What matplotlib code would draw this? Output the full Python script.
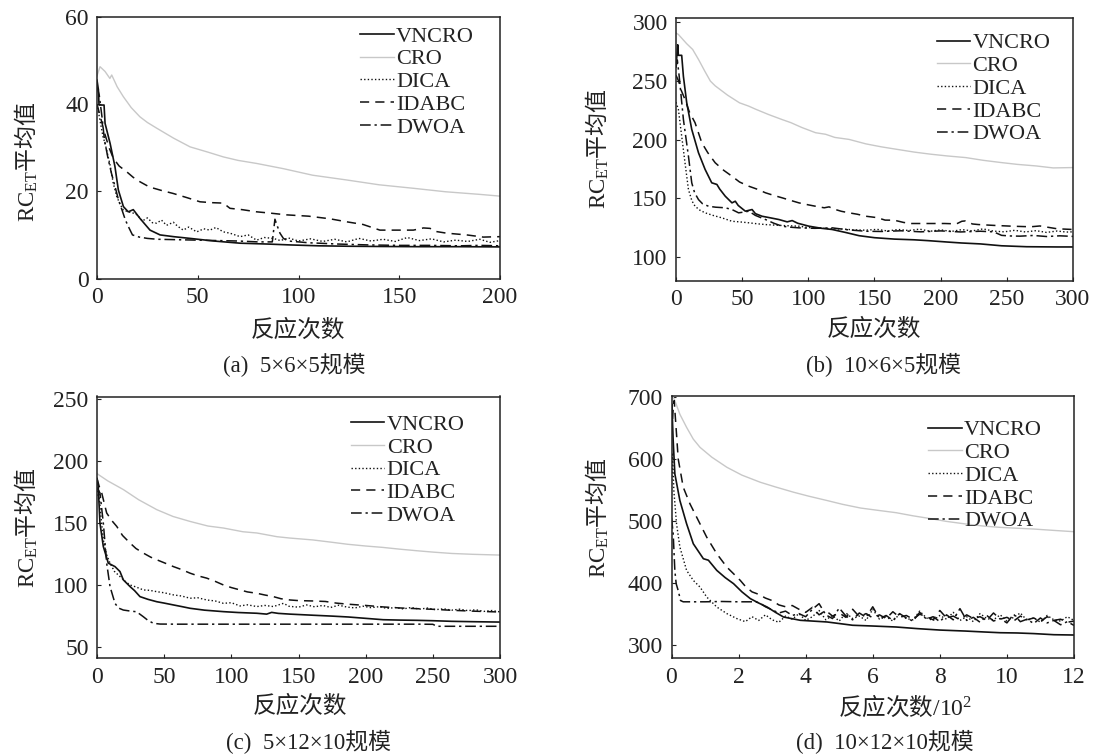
import matplotlib
matplotlib.use('Agg')
import matplotlib.pyplot as plt

plt.rcParams['font.family'] = ['Liberation Serif', 'Noto Sans CJK SC']
plt.rcParams['mathtext.fontset'] = 'custom'
plt.rcParams['mathtext.rm'] = 'Liberation Serif'
plt.rcParams['mathtext.it'] = 'Liberation Serif:italic'

labels = ['VNCRO', 'CRO', 'DICA', 'IDABC', 'DWOA']

# ---------------- panel (a) ----------------
a_vn_x = [0, 0.7, 1.0, 3.5, 4.0, 6.5, 8.9, 10.6, 13.1, 15.5, 18.0, 21.3, 26.3, 31.3, 38, 46.2, 58, 71, 85, 96, 110, 125, 140, 160, 180, 200]
a_vn_y = [45.5, 43.3, 39.8, 39.8, 35.6, 31.0, 25.7, 20.3, 16.5, 15.3, 15.8, 13.8, 11.1, 10.0, 9.6, 9.2, 8.6, 8.1, 7.9, 7.7, 7.5, 7.4, 7.35, 7.3, 7.3, 7.25]
a_cro_x = [0, 1.5, 4, 6.4, 7.3, 10, 13.1, 17, 21.3, 25, 29.6, 38, 46.2, 55, 62.7, 70, 79.2, 92.5, 107, 124, 140, 157, 173, 190, 200]
a_cro_y = [46.5, 48.6, 47.5, 45.9, 46.7, 44, 41.7, 39.2, 37.1, 35.8, 34.5, 32.2, 30.2, 29.0, 27.9, 27.1, 26.4, 25.2, 23.7, 22.6, 21.5, 20.7, 19.9, 19.3, 18.9]
a_dica_x = [0, 1, 2, 3, 4, 5, 6.5, 8, 9.8, 11.5, 13.1, 15.5, 18, 20, 22.5, 25, 27.5, 29.6, 32, 34.5, 37.9, 40, 42.8, 45.5, 49.5, 53, 56, 59, 62.7, 66, 71, 75, 79.2, 83, 87.5, 91, 95, 100, 106, 112, 118, 124, 130, 136, 142, 148, 154, 160, 166, 172, 178, 184, 190, 195, 200]
a_dica_y = [40, 37.5, 35, 32.5, 31, 29, 26, 22, 18.8, 17.0, 15.7, 15.3, 15.0, 14.6, 13.2, 13.9, 12.8, 12.7, 13.4, 12.2, 12.9, 12.0, 11.1, 11.8, 10.7, 11.4, 11.1, 11.7, 10.7, 10.4, 9.6, 10.0, 8.8, 9.4, 9.2, 8.7, 9.3, 8.6, 9.1, 8.5, 9.0, 8.4, 9.2, 8.6, 9.0, 8.5, 9.4, 8.7, 9.1, 8.4, 8.8, 8.5, 9.0, 8.3, 8.7]
a_ida_x = [0, 2, 4, 6, 8.1, 11, 14.7, 18, 21.3, 26, 32, 37.9, 45, 51.1, 57, 62.7, 66, 72, 79.2, 86, 94.1, 105, 115.6, 124, 132, 140.4, 150, 157, 162, 165.3, 168, 173.5, 183.5, 191.7, 200]
a_ida_y = [40, 36.5, 33, 30, 27.6, 25.8, 24.5, 23.2, 22.2, 21.0, 20.2, 19.5, 18.5, 17.6, 17.4, 17.3, 16.1, 15.8, 15.3, 15.0, 14.6, 14.3, 13.7, 13.0, 12.4, 11.1, 11.1, 11.1, 11.6, 11.5, 10.8, 10.4, 10.0, 9.5, 9.6]
a_dw_x = [0, 1.1, 2.5, 3.7, 5.5, 7.2, 9, 10.7, 12.5, 14.1, 16, 17.6, 19, 21, 25, 30, 40, 50, 60, 70, 80, 87, 88.3, 89.5, 90.8, 92.5, 95, 105, 120, 135, 150, 165, 180, 190, 200]
a_dw_y = [44, 42.1, 37, 31.8, 27.5, 24.1, 21, 18.0, 15.6, 13.4, 11.5, 10.0, 9.8, 9.5, 9.2, 9.0, 8.9, 8.8, 8.7, 8.6, 8.4, 8.4, 13.6, 12.0, 10.4, 9.2, 8.6, 8.2, 7.9, 7.7, 7.6, 7.6, 7.5, 7.6, 7.5]

# ---------------- panel (b) ----------------
b_vn_x = [0, 1.3, 1.8, 4.3, 5.6, 8.1, 11.9, 17, 22, 27, 30.9, 33, 37.2, 42.3, 44.8, 47, 52.4, 57.5, 60, 65, 71, 77.7, 84, 87.8, 92, 100.5, 110, 118, 128, 138.4, 150, 165, 180, 190.3, 205, 215.6, 230, 246, 265, 288, 300]
b_vn_y = [262, 281, 272, 272, 254, 231.6, 208.8, 188.9, 174.7, 163.3, 161.9, 158, 151.9, 146.2, 147.6, 144, 139.1, 140.5, 137, 134.8, 133.5, 132, 130, 131.1, 128.8, 126.3, 124.5, 123.5, 121, 118.2, 116.5, 115.3, 114.7, 114.0, 112.8, 112.0, 111.2, 109.6, 108.8, 108.6, 108.6]
b_cro_x = [0, 1.8, 8, 12.6, 17, 22, 26, 29.6, 39, 48, 54.9, 60.3, 70, 80, 86.8, 95, 105.5, 113, 120, 130.8, 143.5, 155, 166, 180, 192.5, 205, 219, 232, 245.5, 258, 272, 285, 300]
b_cro_y = [291, 289.8, 282, 277, 268.5, 258, 250, 246, 238, 231.5, 228.7, 226, 221.5, 217.3, 214.6, 210.5, 206, 204.7, 202, 200.3, 196.5, 194, 192, 189.5, 187.7, 186.2, 184.8, 182.5, 180.6, 179, 177.7, 176, 176.3]
b_dica_x = [0, 1.8, 4.3, 6.8, 9.4, 12, 14.4, 18, 22, 28, 34.7, 42.3, 48, 55, 61, 67.6, 75, 82, 92.9, 100, 108, 118, 126, 134, 143.5, 152, 160, 168, 176, 184, 192, 200, 208, 216, 224, 232, 240, 248, 256, 264, 272, 280, 288, 295, 300]
b_dica_y = [232, 225.9, 203.1, 180.4, 157.6, 148, 143.3, 140, 137.7, 135.5, 133.4, 130.5, 130, 129.2, 128.4, 127.7, 127.2, 126.8, 126.3, 125.2, 124.8, 124.1, 123.9, 123.2, 122.9, 123.6, 122.2, 123.5, 122.6, 123.8, 122.0, 123.2, 121.8, 123.4, 122.3, 124.0, 122.1, 121.5, 122.8, 121.4, 122.5, 121.0, 122.2, 121.3, 121.5]
b_ida_x = [0, 2, 4, 6.8, 10, 14.4, 19.5, 24, 29.6, 36, 42.3, 48, 55, 61, 67.6, 74, 80.2, 86, 92.9, 100, 105.5, 112, 115.7, 119, 125, 130.8, 137, 143.5, 152, 158, 165, 172, 178, 190, 203, 212, 216, 218.5, 224, 228.6, 240, 254, 268, 275, 288, 300]
b_ida_y = [255, 250, 242, 234.4, 224, 214.5, 197.4, 189, 180.4, 174, 168.9, 164, 160.4, 158, 154.8, 152.5, 150.5, 148.5, 146.2, 144.5, 143.3, 142, 142.8, 141, 139, 137.7, 136.5, 134.8, 133.6, 131.5, 131.4, 129.5, 128.6, 128.6, 128.6, 128.3, 130.5, 130.8, 128.2, 127.7, 127, 126.3, 125.8, 126.5, 124.1, 123.5]
b_dw_x = [0, 1, 2.4, 5.6, 9.4, 11.9, 14, 17, 20, 24.6, 30, 37.2, 42.3, 47.3, 51, 55, 60, 67.6, 74, 80.2, 86, 92.9, 105, 118, 130, 143.5, 155, 170, 185, 200, 215, 230, 240, 246, 252, 260, 270, 280, 290, 300]
b_dw_y = [262, 268, 254.3, 217.3, 186, 163.3, 155, 149, 145.5, 143.3, 142.5, 142, 140.5, 137.7, 138.3, 139.1, 135.5, 132, 128.8, 126.3, 125.5, 124.9, 124.5, 124.9, 123.2, 122, 121.8, 122.4, 121.5, 122.3, 121.4, 122.0, 121.5, 118.5, 118.0, 117.8, 118.4, 117.5, 118.1, 117.6]

# ---------------- panel (c) ----------------
c_vn_x = [0, 0.9, 2.2, 4.7, 8.4, 13.4, 17.1, 19.6, 24.6, 28, 32, 38, 44.5, 50, 56.9, 63, 69.3, 80, 94.1, 105, 119, 126.3, 130, 135, 143.7, 161, 175, 187, 200, 213, 225, 238, 250, 264, 280, 300]
c_vn_y = [186, 179.6, 150, 131.1, 117.7, 114.9, 110.9, 104.2, 98.8, 95.5, 90.7, 88.5, 86.6, 85.5, 84, 82.7, 81.3, 79.8, 78.6, 77.9, 77.3, 76.6, 78.0, 77.2, 76.6, 75.7, 75, 74.3, 73.2, 72.1, 71.8, 71.6, 71.3, 70.8, 70.5, 70.2]
c_cro_x = [0, 1, 8, 19.6, 31, 44.5, 56.6, 69.3, 82.6, 94.1, 108.6, 119, 134, 143.7, 160.6, 175, 186.6, 200, 212.5, 225, 238, 250, 264, 280, 300]
c_cro_y = [190, 189.1, 184, 177, 168.8, 160.8, 155.3, 151.3, 147.6, 146, 143, 142, 139, 137.9, 136.4, 134.5, 132.9, 131.5, 130.4, 129, 127.7, 126.6, 125.5, 124.8, 124.2]
c_dica_x = [0, 1, 2.5, 4.7, 7, 9.7, 13, 17.1, 21, 24.6, 29, 34.5, 39, 44.5, 50, 56.9, 63, 69.3, 75, 81.7, 88, 94.1, 100, 106.5, 112, 119, 125, 131.3, 135, 138.8, 143, 150, 156, 162, 168, 174, 180, 186, 192, 198, 204, 210, 216, 222, 228, 234, 240, 246, 252, 258, 264, 270, 276, 282, 288, 294, 300]
c_dica_y = [172, 180, 160, 136.5, 125, 117.7, 111, 106.9, 103, 100.1, 98.5, 96.1, 95.8, 94.7, 93.8, 92.1, 91.2, 89.4, 89.8, 88, 87.2, 85.3, 85.8, 83.2, 84.1, 82.7, 83.6, 82.7, 84.0, 85.3, 82.9, 82.2, 84.0, 82.5, 83.6, 82.0, 83.8, 82.3, 81.6, 83.0, 81.8, 82.6, 81.2, 81.9, 80.8, 82.0, 80.6, 81.5, 80.2, 80.9, 79.8, 80.6, 79.4, 80.1, 78.8, 79.5, 78.4]
c_ida_x = [0, 1.5, 3.5, 7.2, 11, 14.7, 19, 24.6, 29, 34.5, 40, 44.5, 50, 56.9, 63, 69.3, 75, 81.7, 88, 94.1, 100, 106.5, 112, 119, 125, 131.3, 137, 143.7, 150, 161, 170, 178, 187, 200, 213, 225, 238, 250, 264, 280, 300]
c_ida_y = [186, 180, 174.3, 158.1, 152, 147.3, 140, 133.9, 129.5, 125.8, 122.5, 120.4, 118, 114.9, 112.5, 109.6, 107.5, 105.6, 103, 100.1, 98, 96.1, 94.5, 93.4, 92, 90.7, 89, 88, 87.5, 87.2, 86.8, 85.5, 84.6, 83.6, 82.4, 81.6, 81, 80.5, 79.7, 79, 78.3]
c_dw_x = [0, 2.2, 4.7, 7.2, 9.7, 13.4, 16, 19.6, 24, 29.5, 34.5, 38, 42, 46.9, 60, 100, 150, 200, 240, 250, 253, 260, 300]
c_dw_y = [178, 174.3, 150, 117.7, 98.8, 85.3, 81.5, 79.9, 79.2, 78.5, 74.5, 71.5, 69.2, 68.6, 68.5, 68.5, 68.5, 68.5, 68.5, 68.4, 66.8, 66.8, 66.8]

# ---------------- panel (d) ----------------
d_noise_x = [2.2, 2.4, 2.6, 2.8, 3.0, 3.2, 3.4, 3.6, 3.8, 4.0, 4.2, 4.4, 4.6, 4.8, 5.0, 5.2, 5.4, 5.6, 5.8, 6.0,
             6.2, 6.4, 6.6, 6.8, 7.0, 7.2, 7.4, 7.6, 7.8, 8.0, 8.2, 8.4, 8.6, 8.8, 9.0, 9.2, 9.4, 9.6, 9.8, 10.0,
             10.2, 10.4, 10.6, 10.8, 11.0, 11.2, 11.4, 11.6, 11.8, 12.0]
d_vn_x = [0, 0.01, 0.05, 0.1, 0.25, 0.45, 0.65, 0.95, 1.1, 1.35, 1.6, 1.85, 2.1, 2.35, 2.6, 2.85, 3.1, 3.34, 3.84, 4.64, 5.4, 6.0, 6.7, 7.33, 8.0, 8.76, 9.32, 9.8, 10.3, 10.8, 11.4, 12]
d_vn_y = [680, 688.6, 629.6, 576, 533.1, 495.7, 463.5, 439.4, 437, 420.6, 409, 399.2, 386, 375.1, 368, 361.6, 353, 345.5, 340.2, 337.5, 332.2, 331, 329.4, 326.8, 324.5, 322.9, 321.4, 320.2, 319.8, 318.8, 317, 316.5]
d_cro_x = [0, 0.1, 0.25, 0.45, 0.65, 0.85, 1.2, 1.65, 2.1, 2.65, 3.1, 3.64, 4.1, 4.64, 5.1, 5.64, 6.2, 6.7, 7.2, 7.72, 8.2, 8.76, 9.3, 9.8, 10.3, 10.8, 11.4, 12]
d_cro_y = [705, 694, 672, 651, 632, 618.8, 603, 586.7, 574, 562.5, 555, 546.5, 540, 533.1, 527, 521, 517, 513.5, 508.5, 504, 499.5, 495.4, 492, 489.9, 488.5, 487.2, 485, 482.9]
d_dica_x0 = [0, 0.03, 0.07, 0.15, 0.25, 0.45, 0.65, 0.85, 1.05, 1.35, 1.65, 1.95]
d_dica_y0 = [560, 610, 549, 495.7, 458, 420.6, 404.5, 393.7, 377.7, 361.6, 351, 342.9]
d_dica_yn = [338, 346, 340, 349, 341, 337, 347, 342, 351, 340, 346, 356, 341, 348, 339, 352, 343, 347, 340, 358,
             342, 346, 339, 350, 343, 341, 355, 344, 340, 348, 342, 353, 340, 346, 338, 351, 343, 341, 349, 339,
             345, 352, 340, 344, 337, 348, 341, 339, 346, 340]
d_ida_x0 = [0, 0.05, 0.08, 0.15, 0.2, 0.35, 0.55, 0.75, 1.05, 1.35, 1.65, 2.05]
d_ida_y0 = [640, 680, 694, 640, 600, 554.5, 527.8, 506.3, 474.1, 447.4, 425.9, 404.5]
d_ida_yn = [395, 386, 382, 376, 372, 365, 362, 364, 358, 353, 361, 349, 356, 347, 352, 345, 358, 346, 351, 344,
            349, 343, 354, 345, 348, 342, 350, 346, 341, 356, 344, 347, 341, 349, 343, 346, 340, 352, 342, 345,
            339, 347, 341, 344, 338, 346, 340, 342, 337, 339]
d_dw_x0 = [0, 0.05, 0.1, 0.14, 0.2, 0.27, 0.35, 1.0, 1.5, 2.0]
d_dw_y0 = [505, 480, 420, 399, 388, 372, 370, 370, 370.5, 370]
d_dw_yn = [370, 370, 369, 362, 357, 352, 355, 348, 351, 346, 358, 367, 349, 343, 360, 347, 341, 352, 345, 362,
           343, 348, 340, 351, 344, 339, 353, 342, 346, 338, 349, 341, 359, 340, 345, 337, 348, 339, 343, 336,
           350, 338, 342, 335, 344, 336, 340, 333, 338, 332]

panels = [
    dict(series=[(a_vn_x, a_vn_y), (a_cro_x, a_cro_y), (a_dica_x, a_dica_y), (a_ida_x, a_ida_y), (a_dw_x, a_dw_y)],
         xlim=(0, 200), ylim=(0, 60), xt=[0, 50, 100, 150, 200], yt=[0, 20, 40, 60]),
    dict(series=[(b_vn_x, b_vn_y), (b_cro_x, b_cro_y), (b_dica_x, b_dica_y), (b_ida_x, b_ida_y), (b_dw_x, b_dw_y)],
         xlim=(0, 300), ylim=(80, 304), xt=[0, 50, 100, 150, 200, 250, 300], yt=[100, 150, 200, 250, 300]),
    dict(series=[(c_vn_x, c_vn_y), (c_cro_x, c_cro_y), (c_dica_x, c_dica_y), (c_ida_x, c_ida_y), (c_dw_x, c_dw_y)],
         xlim=(0, 300), ylim=(41, 252), xt=[0, 50, 100, 150, 200, 250, 300], yt=[50, 100, 150, 200, 250]),
    dict(series=[(d_vn_x, d_vn_y), (d_cro_x, d_cro_y),
                 (d_dica_x0 + d_noise_x, d_dica_y0 + d_dica_yn),
                 (d_ida_x0 + d_noise_x, d_ida_y0 + d_ida_yn),
                 (d_dw_x0 + d_noise_x, d_dw_y0 + d_dw_yn)],
         xlim=(0, 12), ylim=(279, 701), xt=[0, 2, 4, 6, 8, 10, 12], yt=[300, 400, 500, 600, 700]),
]

styles = [
    dict(color='#111111', lw=1.2, ls='-'),
    dict(color='#c8c8c8', lw=1.0, ls='-'),
    dict(color='#111111', lw=1.0, ls=(0, (1, 1.6))),
    dict(color='#111111', lw=1.1, ls=(0, (6, 4))),
    dict(color='#111111', lw=1.1, ls=(0, (7, 2.5, 1.5, 2.5))),
]

W, H = 1093, 754
fig = plt.figure(figsize=(W / 100, H / 100), dpi=100)

boxes = [(97, 17, 500, 278.5), (676, 17.8, 1073, 280.5), (97, 396.5, 500, 658.3), (671.5, 396.3, 1074, 658.3)]
leg_anchor = [(0.935, 0.965), (0.943, 0.943), (0.912, 0.9324), (0.92, 0.9103)]
xlab = [(298, 331, '反应次数'), (874, 330, '反应次数'), (300, 707, '反应次数'),
        (905, 707, '反应次数$\\mathrm{/10^2}$')]
caps = [(294, 365, '(a)  5×6×5规模'), (883, 365, '(b)  10×6×5规模'),
        (308, 742, '(c)  5×12×10规模'), (885, 742, '(d)  10×12×10规模')]
ylab = [(26, 162), (597, 149), (26, 528), (597, 518)]

for i, p in enumerate(panels):
    l, t, r, b = boxes[i]
    ax = fig.add_axes([l / W, 1 - b / H, (r - l) / W, (b - t) / H])
    for (x, y), st, lab in zip(p['series'], styles, labels):
        ax.plot(x, y, color=st['color'], lw=st['lw'], linestyle=st['ls'], label=lab)
    ax.set_xlim(*p['xlim'])
    ax.set_ylim(*p['ylim'])
    ax.set_xticks(p['xt'])
    ax.set_yticks(p['yt'])
    ax.tick_params(direction='in', length=3, width=0.8, labelsize=17, pad=6,
                   top=False, right=False, colors='#222222', labelcolor='#222222')
    for sp in ax.spines.values():
        sp.set_linewidth(1.1)
        sp.set_color('#222222')
    leg = ax.legend(loc='upper right', bbox_to_anchor=leg_anchor[i], frameon=False,
                    fontsize=16, handlelength=1.5, handletextpad=0.1, labelspacing=0.1,
                    borderpad=0, borderaxespad=0)
    for txt in leg.get_texts():
        txt.set_color('#222222')
    xl = xlab[i]
    if '$' in xl[2]:
        fig.text(xl[0] / W, 1 - xl[1] / H, xl[2], ha='center', va='center', fontsize=17,
                 family='Noto Sans CJK SC', color='#222222')
    else:
        fig.text(xl[0] / W, 1 - xl[1] / H, xl[2], ha='center', va='center', fontsize=17, color='#222222')
    c = caps[i]
    fig.text(c[0] / W, 1 - c[1] / H, c[2], ha='center', va='center', fontsize=16.5, color='#222222')
    yl = ylab[i]
    fig.text(yl[0] / W, 1 - yl[1] / H, '$\\mathrm{RC}_{\\mathrm{ET}}$平均值', rotation=90,
             ha='center', va='center', fontsize=16.5, family='Noto Sans CJK SC', color='#222222')

fig.savefig('out.png', dpi=100)
